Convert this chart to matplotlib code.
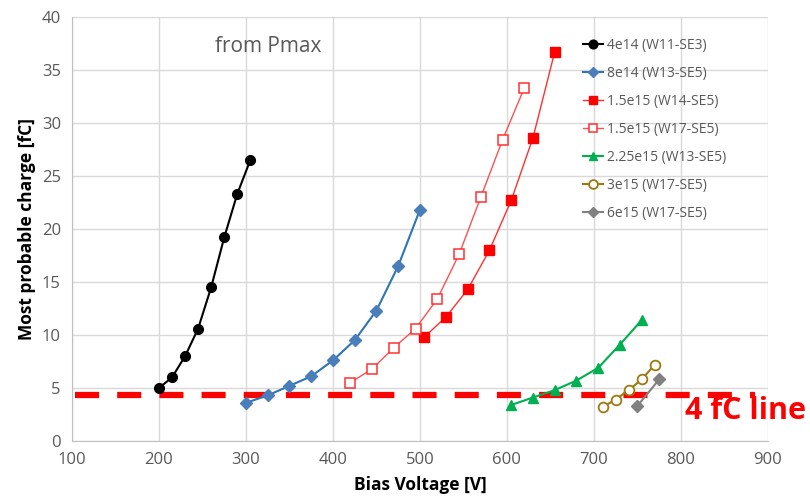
import matplotlib
matplotlib.use("Agg")
import matplotlib.pyplot as plt

plt.rcParams['font.family'] = ['Open Sans', 'DejaVu Sans']

# Data
v_4e14 = [200, 215, 230, 245, 260, 275, 290, 305]
q_4e14 = [5.0, 6.0, 8.0, 10.6, 14.5, 19.2, 23.3, 26.5]

v_8e14 = [300, 325, 350, 375, 400, 425, 450, 475, 500]
q_8e14 = [3.6, 4.3, 5.2, 6.1, 7.6, 9.5, 12.3, 16.5, 21.8]

v_15e15_w14 = [505, 530, 555, 580, 605, 630, 655]
q_15e15_w14 = [9.8, 11.7, 14.3, 18.0, 22.7, 28.6, 36.7]

v_15e15_w17 = [420, 445, 470, 495, 520, 545, 570, 595, 620]
q_15e15_w17 = [5.5, 6.8, 8.8, 10.6, 13.4, 17.6, 23.0, 28.4, 33.3]

v_225e15 = [605, 630, 655, 680, 705, 730, 755]
q_225e15 = [3.4, 4.1, 4.8, 5.7, 6.9, 9.1, 11.4]

v_3e15 = [710, 725, 740, 755, 770]
q_3e15 = [3.2, 3.9, 4.8, 5.8, 7.2]

v_6e15 = [750, 775]
q_6e15 = [3.3, 5.8]

labels = ["4e14 (W11-SE3)", "8e14 (W13-SE5)", "1.5e15 (W14-SE5)", "1.5e15 (W17-SE5)",
          "2.25e15 (W13-SE5)", "3e15 (W17-SE5)", "6e15 (W17-SE5)"]

line_level = 4.35
line_x = [103, 885]

fig = plt.figure(figsize=(8.1, 5.03), dpi=100)
ax = fig.add_axes([0.0889, 0.1233, 0.859, 0.843])

ax.plot(line_x, [line_level, line_level], color='#FF0000', lw=4.5, dashes=(3.85, 2.9),
        zorder=1, solid_capstyle='butt', dash_capstyle='butt')

ax.plot(v_4e14, q_4e14, color='black', lw=1.5, marker='o', ms=7, mfc='black', mec='black', label=labels[0], zorder=3)
ax.plot(v_8e14, q_8e14, color='#2E75B6', lw=1.5, marker='D', ms=6, mfc='#4A7EBB', mec='#4A7EBB', label=labels[1], zorder=3)
ax.plot(v_15e15_w14, q_15e15_w14, color='#FF3030', lw=1, marker='s', ms=7, mfc='#FF0000', mec='#FF0000', label=labels[2], zorder=3)
ax.plot(v_15e15_w17, q_15e15_w17, color='#FF5050', lw=1, marker='s', ms=7, mfc='white', mec='#FF3030', mew=1.1, label=labels[3], zorder=3)
ax.plot(v_225e15, q_225e15, color='#00B050', lw=1.5, marker='^', ms=7, mfc='#00B050', mec='#00B050', label=labels[4], zorder=3)
ax.plot(v_3e15, q_3e15, color='#9C7A10', lw=1.5, marker='o', ms=7, mfc='white', mec='#9C7A10', mew=1.3, label=labels[5], zorder=3)
ax.plot(v_6e15, q_6e15, color='#808080', lw=1.5, marker='D', ms=6, mfc='#808080', mec='#808080', label=labels[6], zorder=3)

ax.set_xlim(100, 900)
ax.set_ylim(0, 40)
ax.set_xticks(range(100, 901, 100))
ax.set_yticks(range(0, 41, 5))
ax.grid(True, color='#D9D9D9', lw=1)
ax.set_axisbelow(True)
for s in ['top', 'right']:
    ax.spines[s].set_visible(False)
for s in ['left', 'bottom']:
    ax.spines[s].set_color('#BFBFBF')
ax.tick_params(length=0, labelsize=12, colors='#595959', pad=8)

ax.set_xlabel('Bias Voltage [V]', fontsize=12.5, fontweight='bold', labelpad=6)
ax.set_ylabel('Most probable charge [fC]', fontsize=12.5, fontweight='bold', labelpad=4)

ax.text(0.205, 0.93, 'from Pmax', transform=ax.transAxes, fontsize=15, color='#595959', va='center')
fig.text(0.846, 0.182, '4 fC line', fontsize=22, fontweight='bold', color='#FF0000', va='center')

leg = ax.legend(loc='upper left', bbox_to_anchor=(0.717, 0.981), frameon=False, fontsize=10,
                labelcolor='#595959', handlelength=1.44, handletextpad=0.25, labelspacing=0.94,
                markerscale=0.9)

fig.savefig('out.png', dpi=100)
